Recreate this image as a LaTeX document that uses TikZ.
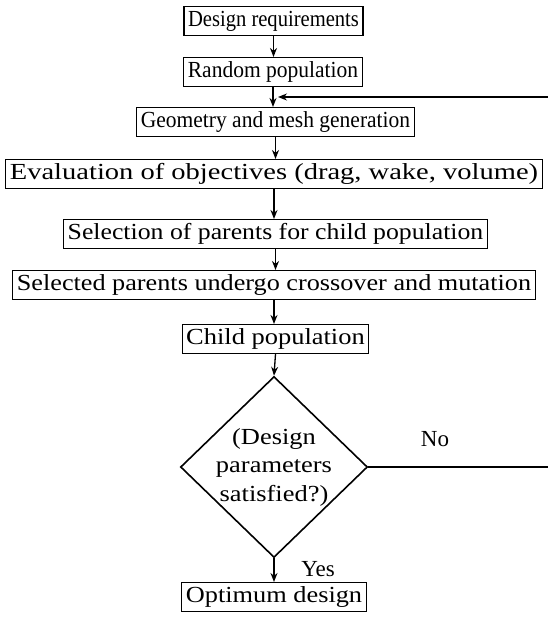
\documentclass[tikz,border=0pt]{standalone}
\usepackage{graphicx}
\usepackage{fontspec}
\setmainfont{Liberation Serif}
\usetikzlibrary{shapes.geometric,arrows.meta}
\tikzset{
	stepbox/.style={draw, line width=1.1pt, minimum height=29pt, inner xsep=4pt, inner ysep=0pt},
	flow/.style={line width=1.3pt, -{Stealth[length=9pt,width=7pt]}},
	plain/.style={line width=1.3pt}
}
\begin{document}
\begin{tikzpicture}[x=1pt, y=-1pt, font=\fontsize{23}{28.5}\selectfont]

		\useasboundingbox (0, 0) rectangle (548, 621);

		\node[stepbox] (req) at(273.5, 21){\scalebox{0.895}[1]{Design requirements}};
		\node[stepbox] (rand) at(273, 72){\scalebox{0.935}[1]{Random population}};
		\node[stepbox] (mesh) at(275.5, 122){\scalebox{0.935}[1]{Geometry and mesh generation}};
		\node[stepbox] (eval) at(274, 174){\scalebox{1.24}[1]{Evaluation of objectives (drag, wake, volume)}};
		\node[stepbox] (sel) at(275.5, 234){\scalebox{1.12}[1]{Selection of parents for child population}};
		\node[stepbox] (cross) at(274, 285){\scalebox{1.14}[1]{Selected parents undergo crossover and mutation}};
		\node[stepbox] (child) at(275.5, 339){\scalebox{1.15}[1]{Child population}};
		\node[diamond, draw, line width=1.6pt, inner sep=-8pt, minimum width=187pt, minimum height=181pt,
			align=center] (check) at(274, 467)
			{\scalebox{1.15}[1]{(Design}\\\scalebox{1.15}[1]{parameters}\\\scalebox{1.15}[1]{satisfied?)}};
		\node[stepbox] (opt) at(274, 597){\scalebox{1.145}[1]{Optimum design}};

		\node at(318, 569){Yes};
		\node at(435, 439){No};

		% loop back
		\coordinate (backin) at(548, 97);
		\coordinate (backtip) at(278, 97);
		\coordinate (backout) at(548, 467);

		\draw[flow](req.south) -- (req.south |- rand.north);
		\draw[flow](rand.south) -- (rand.south |- mesh.north);
		\draw[flow](mesh.south) -- (mesh.south |- eval.north);
		\draw[flow](eval.south) -- (eval.south |- sel.north);
		\draw[flow](sel.south) -- (sel.south |- cross.north);
		\draw[flow](cross.south) -- (cross.south |- child.north);
		\draw[flow](child.south) -- (check.north);
		\draw[flow](check.south) -- (opt.north);
		\draw[flow](backin) -- (backtip);
		\draw[plain](check.east) -- (backout);

	\end{tikzpicture}
\end{document}
